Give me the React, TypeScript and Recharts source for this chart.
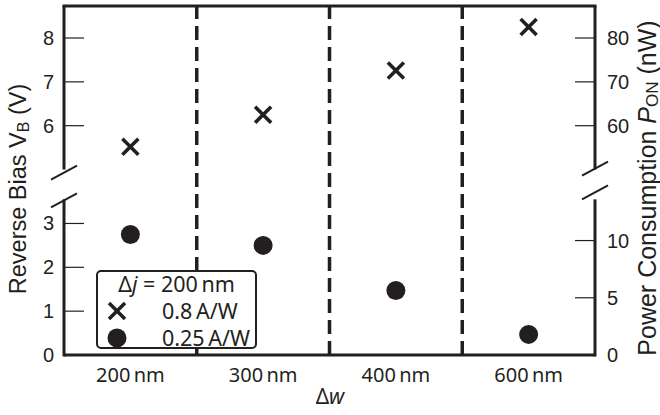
import React from 'react'
import { ScatterChart, Scatter, XAxis, YAxis, ReferenceLine, ReferenceArea, Legend } from 'recharts'

const categories = ['200 nm', '300 nm', '400 nm', '600 nm']
const bias08 = [5.52, 6.25, 7.26, 8.25]   // 0.8 A/W  (V)
const bias025 = [2.75, 2.5, 1.47, 0.47]   // 0.25 A/W (V)
const biasTicksLow = [0, 1, 2, 3]
const biasTicksHigh = [6, 7, 8]
const powerTicksLow = [0, 5, 10]
const powerTicksHigh = [60, 70, 80]

// broken axis: visible ranges of each segment
const BIAS_LOW = [0, 3.55]
const BIAS_HIGH = [5.0, 8.73]
const POWER_LOW = [0, 13.6]
const POWER_HIGH = [50, 87.3]
const GAP = 0.68

const INK = '#231f20'
const NUM_FONT = '"Liberation Sans", Arial, sans-serif'
const TXT_FONT = '"Noto Sans", sans-serif'

const lowSpan = BIAS_LOW[1] - BIAS_LOW[0]
const highSpan = BIAS_HIGH[1] - BIAS_HIGH[0]
const highStart = lowSpan + GAP
const TOP = highStart + highSpan

const biasPos = (v: number) =>
    v <= BIAS_LOW[1] ? v - BIAS_LOW[0] : highStart + (v - BIAS_HIGH[0])

const powerPos = (p: number) =>
    p <= POWER_LOW[1]
        ? ((p - POWER_LOW[0]) / (POWER_LOW[1] - POWER_LOW[0])) * lowSpan
        : highStart + ((p - POWER_HIGH[0]) / (POWER_HIGH[1] - POWER_HIGH[0])) * highSpan

const biasTicks = [...biasTicksLow, ...biasTicksHigh]
const powerTicks = [...powerTicksLow, ...powerTicksHigh]

const seriesHigh = bias08.map((v, i) => ({ x: i + 0.5, y: biasPos(v) }))
const seriesLow = bias025.map((v, i) => ({ x: i + 0.5, y: biasPos(v) }))

const findLabel = (list: number[], map: (v: number) => number, value: number) => {
    const hit = list.find(t => Math.abs(map(t) - value) < 1e-6)
    return hit === undefined ? '' : String(hit)
}

const LeftTick = ({ x, y, payload }: any) => (
    <g>
        <line x1={x + 10} x2={x + 30} y1={y} y2={y} stroke={INK} strokeWidth={1.2} />
        <text x={x} y={y} dy="0.35em" textAnchor="end" fontFamily={NUM_FONT} fontSize={20} fill={INK}>
            {findLabel(biasTicks, biasPos, payload.value)}
        </text>
    </g>
)

const RightTick = ({ x, y, payload }: any) => (
    <g>
        <line x1={x - 12} x2={x - 32} y1={y} y2={y} stroke={INK} strokeWidth={1.2} />
        <text x={x} y={y} dy="0.35em" textAnchor="start" fontFamily={NUM_FONT} fontSize={20} fill={INK}>
            {findLabel(powerTicks, powerPos, payload.value)}
        </text>
    </g>
)

const BottomTick = ({ x, y, payload }: any) => (
    <text x={x} y={y + 25} textAnchor="middle" fontFamily={TXT_FONT} fontSize={20} fill={INK}>
        {categories[Math.floor(payload.value)].replace(' ', '\u2009')}
    </text>
)

const LeftTitle = () => (
    <text transform="translate(18,189) rotate(-90)" textAnchor="middle" dominantBaseline="central"
        fontFamily={NUM_FONT} fontSize={23.5} fill={INK}>
        Reverse Bias V<tspan fontSize={16} dy={5}>B</tspan><tspan dy={-5}> (V)</tspan>
    </text>
)

const RightTitle = () => (
    <text transform="translate(647,188) rotate(-90)" textAnchor="middle" dominantBaseline="central"
        fontFamily={NUM_FONT} fontSize={25} fill={INK}>
        Power Consumption <tspan fontStyle="italic">P</tspan><tspan fontSize={17} dy={5}>ON</tspan><tspan dy={-5}> (nW)</tspan>
    </text>
)

const BottomTitle = () => (
    <text x={330} y={404} textAnchor="middle" fontFamily={TXT_FONT} fontSize={21} fill={INK}>
        Δ<tspan fontStyle="italic">w</tspan>
    </text>
)

const Slash = ({ cx, cy }: { cx: number, cy: number }) => (
    <line x1={cx - 13} y1={cy + 7} x2={cx + 13} y2={cy - 7} stroke={INK} strokeWidth={2} />
)

// frame pieces of the upper segment + break marks
const UpperFrame = ({ x, y, width, height }: any) => (
    <g>
        <line x1={x - 1.5} x2={x + width + 1.5} y1={y} y2={y} stroke={INK} strokeWidth={3} />
        <line x1={x} x2={x} y1={y} y2={y + height} stroke={INK} strokeWidth={3} />
        <line x1={x + width} x2={x + width} y1={y} y2={y + height} stroke={INK} strokeWidth={3} />
        <Slash cx={x} cy={y + height + 3} />
        <Slash cx={x + width} cy={y + height - 1} />
    </g>
)

const LowerFrame = ({ x, y, width, height }: any) => (
    <g>
        <line x1={x} x2={x} y1={y} y2={y + height + 1.5} stroke={INK} strokeWidth={3} />
        <line x1={x + width} x2={x + width} y1={y} y2={y + height + 1.5} stroke={INK} strokeWidth={3} />
        <Slash cx={x} cy={y + 1} />
        <Slash cx={x + width} cy={y - 7} />
    </g>
)

const Cross = ({ cx, cy }: any) => (
    <g stroke={INK} strokeWidth={3.6}>
        <line x1={cx - 8} y1={cy - 8} x2={cx + 8} y2={cy + 8} />
        <line x1={cx - 8} y1={cy + 8} x2={cx + 8} y2={cy - 8} />
    </g>
)

const Dot = ({ cx, cy }: any) => <circle cx={cx} cy={cy} r={9.5} fill={INK} />

const rowStyle = { display: 'flex', alignItems: 'center', height: 27 }

const LegendBox = () => (
    <div style={{
        boxSizing: 'border-box', width: 161, height: 79, border: `2px solid ${INK}`, borderRadius: 5,
        background: '#fff', fontFamily: TXT_FONT, fontSize: 21.5, color: INK, lineHeight: '25px'
    }}>
        <div style={{ ...rowStyle, justifyContent: 'center', marginTop: -2 }}>
            <span>Δ<i>j</i> = 200{'\u2009'}nm</span>
        </div>
        <div style={rowStyle}>
            <svg width={22} height={22} style={{ marginLeft: 8 }}>
                <Cross cx={11} cy={11} />
            </svg>
            <span style={{ marginLeft: 34 }}>0.8{'\u2009'}A/W</span>
        </div>
        <div style={rowStyle}>
            <svg width={22} height={22} style={{ marginLeft: 8 }}>
                <Dot cx={11} cy={11} />
            </svg>
            <span style={{ marginLeft: 34 }}>0.25{'\u2009'}A/W</span>
        </div>
    </div>
)

export default function App() {
    return (
        <div style={{ position: 'absolute', left: 0, top: 0, background: '#fff' }}>
            <ScatterChart width={660} height={415} margin={{ top: 6, right: 5, bottom: 10, left: 4 }}>
                <XAxis
                    type="number"
                    dataKey="x"
                    domain={[0, 4]}
                    ticks={[0.5, 1.5, 2.5, 3.5]}
                    interval={0}
                    height={50}
                    tickLine={false}
                    tickSize={0}
                    axisLine={{ stroke: INK, strokeWidth: 3 }}
                    tick={<BottomTick />}
                    label={<BottomTitle />}
                />
                <YAxis
                    type="number"
                    dataKey="y"
                    domain={[0, TOP]}
                    ticks={biasTicks.map(biasPos)}
                    interval={0}
                    width={60}
                    axisLine={false}
                    tickLine={false}
                    tickSize={0}
                    tickMargin={10}
                    tick={<LeftTick />}
                    label={<LeftTitle />}
                />
                <YAxis
                    yAxisId="right"
                    orientation="right"
                    type="number"
                    domain={[0, TOP]}
                    allowDataOverflow
                    ticks={powerTicks.map(powerPos)}
                    interval={0}
                    width={60}
                    axisLine={false}
                    tickLine={false}
                    tickSize={0}
                    tickMargin={12}
                    tick={<RightTick />}
                    label={<RightTitle />}
                />
                <ReferenceArea y1={highStart} y2={TOP} shape={<UpperFrame />} />
                <ReferenceArea y1={0} y2={lowSpan} shape={<LowerFrame />} />
                {[1, 2, 3].map(b => (
                    <ReferenceLine key={b} x={b} stroke={INK} strokeWidth={3.5} strokeDasharray="14 7" />
                ))}
                <Scatter name="0.8 A/W" data={seriesHigh} shape={<Cross />} isAnimationActive={false} />
                <Scatter name="0.25 A/W" data={seriesLow} shape={<Dot />} isAnimationActive={false} />
                <Legend
                    layout="vertical"
                    align="center"
                    verticalAlign="middle"
                    wrapperStyle={{ left: 96, top: 270, width: 161, height: 79 }}
                    content={<LegendBox />}
                />
            </ScatterChart>
        </div>
    )
}
